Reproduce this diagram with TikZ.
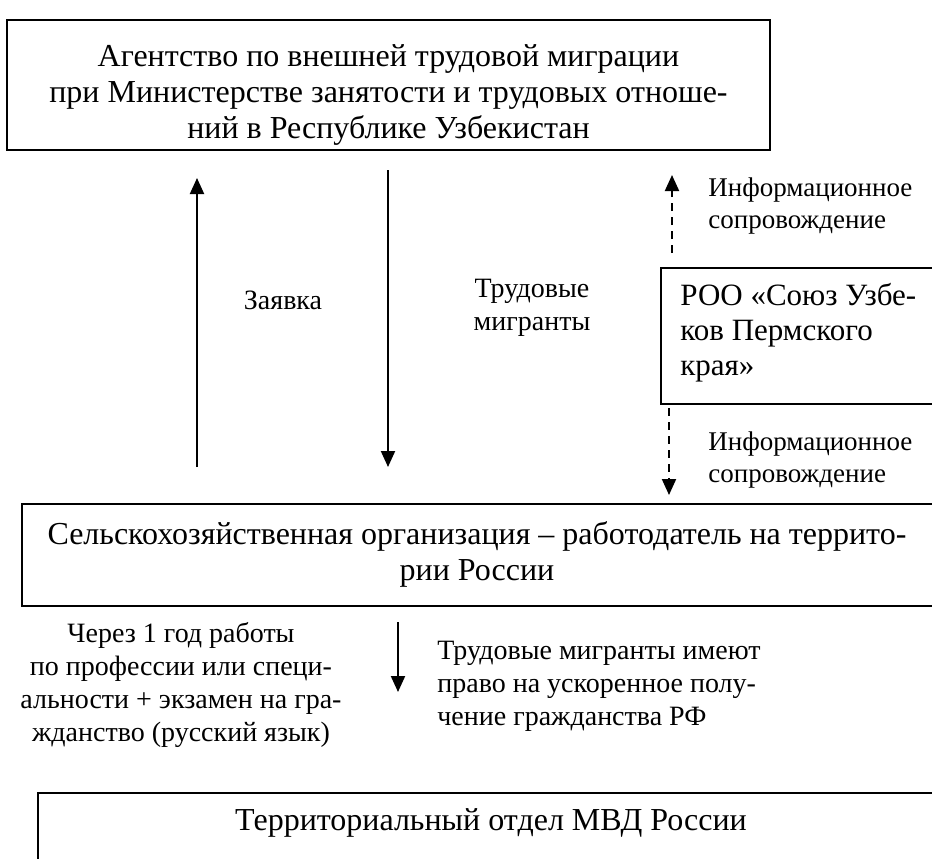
\documentclass[tikz,border=0pt]{standalone}
\usepackage{fontspec}
\setmainfont{Liberation Serif}
\usetikzlibrary{arrows.meta}
\tikzset{
  box/.style={draw, line width=1pt, inner sep=0pt},
  boxtxt/.style={inner sep=0pt, align=center, font=\fontsize{16}{18}\selectfont},
  lbl/.style={inner sep=0pt, font=\fontsize{14}{16.5}\selectfont},
  arr/.style={line width=1pt, -{Triangle[length=8pt,width=7pt]}},
  darr/.style={line width=1pt, dash pattern=on 4pt off 3pt, -{Triangle[length=8pt,width=7pt]}}
}
\begin{document}
\begin{tikzpicture}[x=0.5pt,y=-0.5pt]
\useasboundingbox (0,0) rectangle (932,858);
\clip (0,0) rectangle (932,858);
% top box
\node[box, minimum width=381.5pt, minimum height=65pt] (agency) at (388.5,85) {};
\node[boxtxt] (agencytxt) at (388.5,95)
  {Агентство по внешней трудовой миграции\\при Министерстве занятости и трудовых отноше-\\ний в Республике Узбекистан};
% ROO box
\node[box, anchor=north west, minimum width=150pt, minimum height=68pt] (roo) at (660,267) {};
\node[inner sep=0pt, anchor=north west, align=left, font=\fontsize{15.5}{17.5}\selectfont] (rootxt) at (680,283)
  {РОО «Союз Узбе-\\ков Пермского\\края»};
% middle box
\node[box, minimum width=457pt, minimum height=51pt] (farm) at (479,555) {};
\node[boxtxt] (farmtxt) at (477,554)
  {Сельскохозяйственная организация – работодатель на террито-\\рии России};
% bottom box
\node[box, anchor=north west, minimum width=454pt, minimum height=50pt] (mvd) at (37,792) {};
\node[boxtxt] (mvdtxt) at (491,823) {Территориальный отдел МВД России};
% labels
\node[lbl] (zayavka) at (283,300) {Заявка};
\node[lbl, align=center] (migr) at (532,308) {Трудовые\\мигранты};
\node[lbl, anchor=west, align=left, font=\fontsize{13.5}{16}\selectfont] (info1) at (708,206) {Информационное\\сопровождение};
\node[lbl, anchor=west, align=left, font=\fontsize{13.5}{16}\selectfont] (info2) at (708,460) {Информационное\\сопровождение};
\node[lbl, align=center] (years) at (181,685)
  {Через 1 год работы\\по профессии или специ-\\альности + экзамен на гра-\\жданство (русский язык)};
\node[lbl, anchor=west, align=left] (rights) at (437,686)
  {Трудовые мигранты имеют\\право на ускоренное полу-\\чение гражданства РФ};
% arrow end points
\coordinate (upS) at (197,467);
\coordinate (upE) at (197,178);
\coordinate (dnS) at (388,170);
\coordinate (dnE) at (388,467);
\coordinate (d1S) at (672,253);
\coordinate (d1E) at (672,175);
\coordinate (d2S) at (669,408);
\coordinate (d2E) at (669,495);
\coordinate (bS) at (398,622);
\coordinate (bE) at (398,692);
\draw[arr] (upS) -- (upE);
\draw[arr] (dnS) -- (dnE);
\draw[darr] (d1S) -- (d1E);
\draw[darr] (d2S) -- (d2E);
\draw[arr] (bS) -- (bE);
\end{tikzpicture}
\end{document}
